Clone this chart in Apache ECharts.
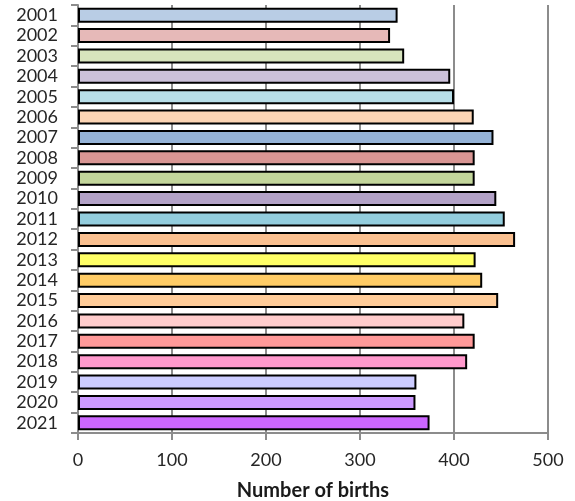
<!DOCTYPE html>
<html>
<head>
<meta charset="utf-8">
<script src="https://cdn.jsdelivr.net/npm/echarts@6/dist/echarts.min.js"></script>
<style>
  html, body { margin: 0; padding: 0; background: #fff; }
  #chart { width: 575px; height: 501px; }
</style>
</head>
<body>
<div id="chart"></div>
<script>
const years = ['2001', '2002', '2003', '2004', '2005', '2006', '2007', '2008', '2009', '2010', '2011',
  '2012', '2013', '2014', '2015', '2016', '2017', '2018', '2019', '2020', '2021'];
const births = [340, 332, 347, 396, 400, 421, 442, 422, 422, 445, 454,
  465, 423, 430, 447, 411, 422, 414, 360, 359, 374];
const barColors = ['#b9cde5', '#e6b9b8', '#d7e4bd', '#ccc1da', '#b7dee8', '#fcd5b5', '#95b3d7',
  '#d99694', '#c3d69b', '#b3a2c7', '#93cddd', '#fac090', '#ffff66', '#ffcc66', '#ffcc99',
  '#ffcccc', '#ff9999', '#ff99cc', '#ccccff', '#cc99ff', '#cc66ff'];
const xTicks = [0, 100, 200, 300, 400, 500];

const chart = echarts.init(document.getElementById('chart'));

const gridColor = '#8c8c8c';

chart.setOption({
  animation: false,
  grid: { left: 78, right: 27, top: 5, bottom: 68, outerBoundsMode: 'none' },
  xAxis: {
    type: 'value',
    min: xTicks[0],
    max: xTicks[xTicks.length - 1],
    interval: 100,
    name: 'Number of births',
    nameLocation: 'middle',
    nameGap: 48,
    nameTextStyle: { fontFamily: 'Lato', fontWeight: 'bold', fontSize: 20, color: '#1a1a1a' },
    axisLine: { show: true, lineStyle: { color: gridColor, width: 2 } },
    axisTick: { show: true, length: 7, lineStyle: { color: gridColor, width: 2 } },
    axisLabel: { fontFamily: 'Lato', fontSize: 18, color: '#262626', margin: 18 },
    splitLine: { show: true, lineStyle: { color: gridColor, width: 2 } }
  },
  yAxis: {
    type: 'category',
    data: years,
    inverse: true,
    axisLine: { show: true, lineStyle: { color: gridColor, width: 2 } },
    axisTick: { show: true, length: 7, interval: 0, alignWithLabel: false, lineStyle: { color: gridColor, width: 2 } },
    axisLabel: { interval: 0, fontFamily: 'Lato', fontSize: 18, color: '#262626', margin: 20 },
    splitLine: { show: false }
  },
  series: [{
    type: 'bar',
    barWidth: 15,
    data: births.map((v, i) => ({
      value: v,
      itemStyle: { color: barColors[i], borderColor: '#000', borderWidth: 2 }
    }))
  }]
});
</script>
</body>
</html>
